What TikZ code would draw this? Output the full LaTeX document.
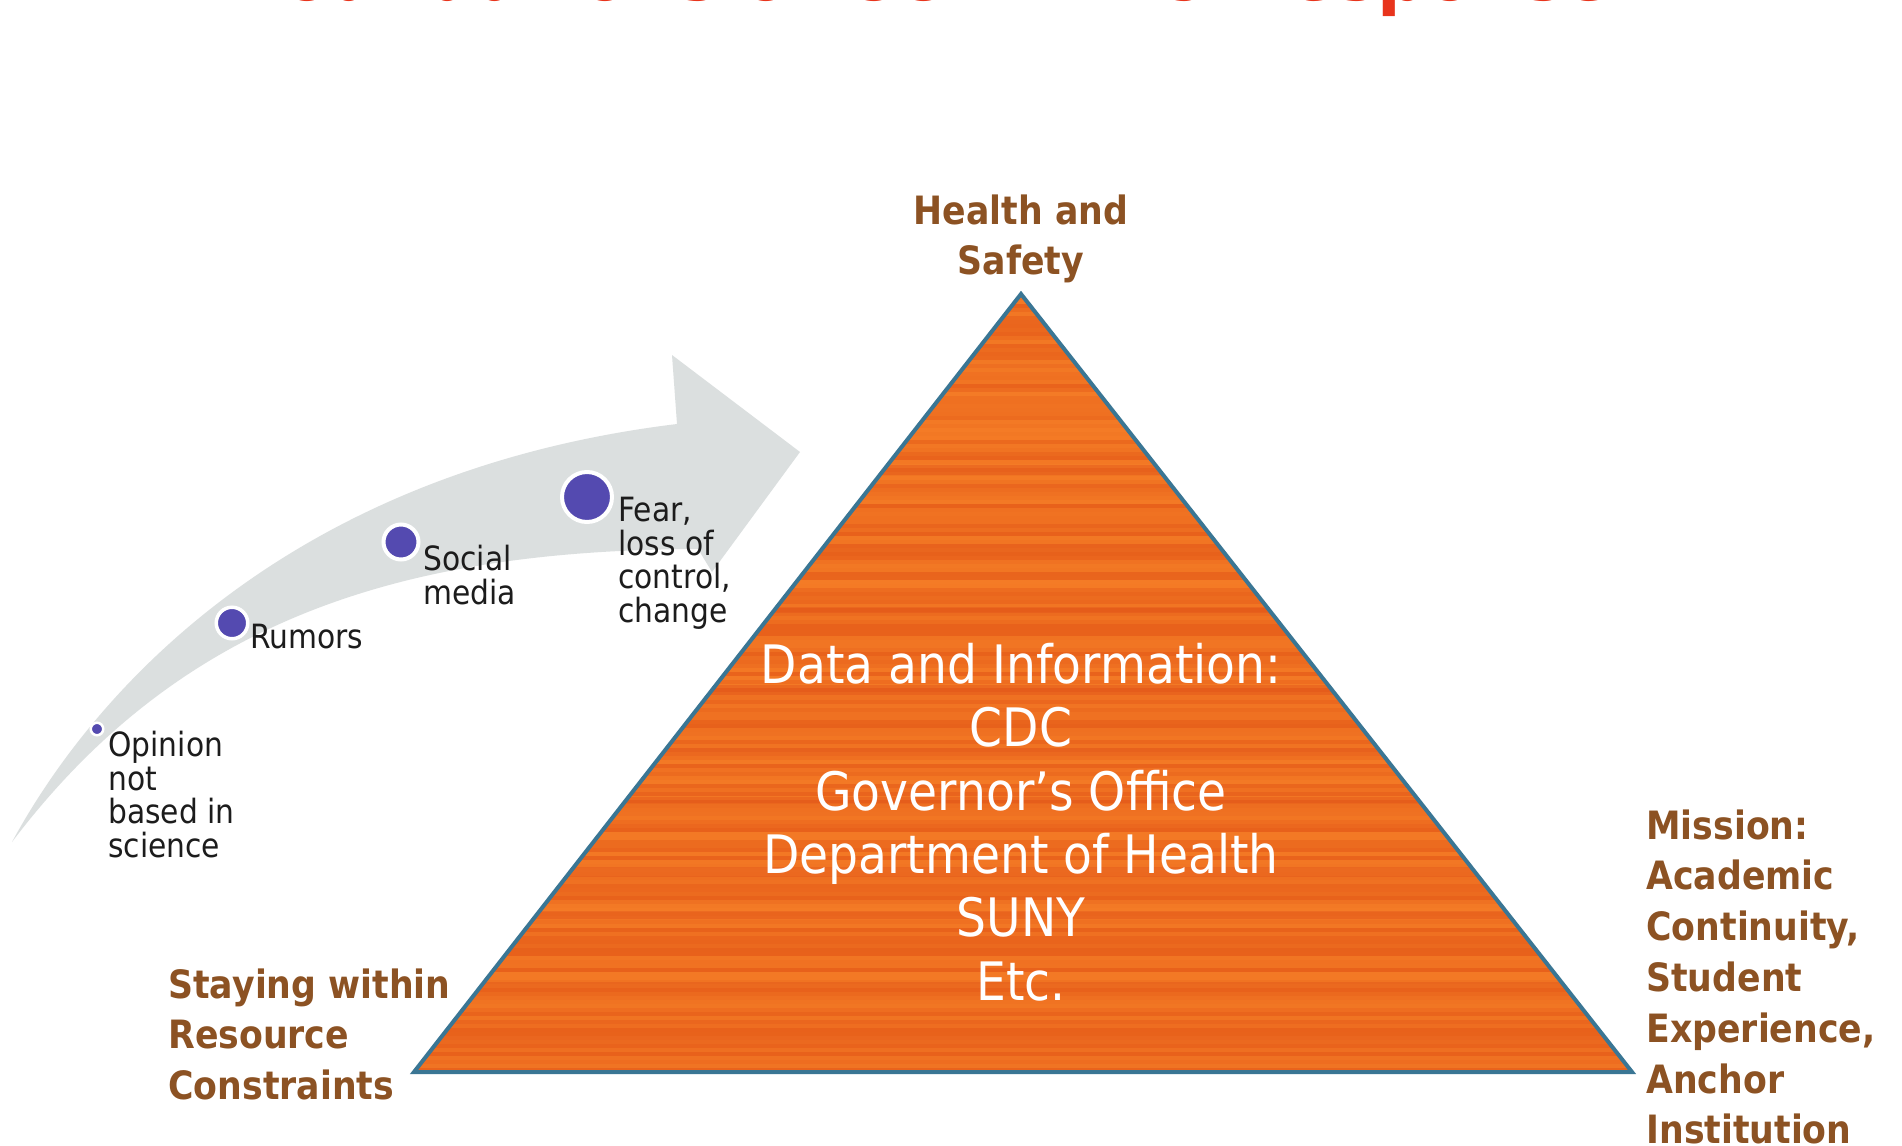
\documentclass[tikz,border=0pt]{standalone}
\usepackage{fontspec}
\setmainfont{DejaVu Sans}[FakeStretch=0.89]
\definecolor{titlered}{RGB}{232,52,28}
\definecolor{brownlbl}{RGB}{140,82,35}
\definecolor{arrowgray}{RGB}{219,223,223}
\definecolor{dotblue}{RGB}{84,74,176}
\definecolor{triorange}{RGB}{240,112,30}
\definecolor{streakA}{RGB}{222,78,24}
\definecolor{streakB}{RGB}{250,138,48}
\definecolor{triedge}{RGB}{58,118,148}
\definecolor{darktext}{RGB}{28,28,28}
\begin{document}
\begin{tikzpicture}[x=0.5pt,y=-0.5pt,
  brownbold/.style={font=\bfseries\fontsize{19.5}{25.4}\selectfont, text=brownlbl, inner sep=0pt},
  arrowlbl/.style={font=\fontsize{16.7}{16.8}\selectfont, text=darktext, inner sep=0pt, anchor=north west, align=left},
  dotnode/.style={circle, fill=dotblue, draw=white, inner sep=0pt},
  datatext/.style={font=\fontsize{26.5}{31.65}\selectfont, text=white, inner sep=0pt, align=center}]
\useasboundingbox (0,0) rectangle (1902,1146);
\clip (0,0) rectangle (1902,1146);
\fill[white] (0,0) rectangle (1902,1146);

% title (cut off at the top edge)
\node[anchor=base, font=\bfseries\fontsize{38.7}{40}\selectfont, text=titlered, inner sep=0pt] (title) at (925,0) {Foundations of COVID-19 Response};

% curved arrow
\fill[arrowgray] (12,842) .. controls (100,680) and (300,470) .. (677,424)
  -- (672,355) -- (800,452) -- (712,572) -- (698,549)
  .. controls (400,550) and (180,620) .. (12,842) -- cycle;

% dots
\node[dotnode, minimum size=6.25pt, line width=1.25pt] (d1) at (97,729) {};
\node[dotnode, minimum size=15.75pt, line width=1.75pt] (d2) at (232,623) {};
\node[dotnode, minimum size=17.5pt, line width=2pt] (d3) at (401,542) {};
\node[dotnode, minimum size=25pt, line width=2pt] (d4) at (587,497) {};

% labels on the arrow
\node[arrowlbl] (l1) at (108,731) {Opinion\\not\\based in\\science};
\node[arrowlbl] (l2) at (250,624) {Rumors};
\node[arrowlbl] (l3) at (423,545) {Social\\media};
\node[arrowlbl] (l4) at (618,497) {Fear,\\loss of\\control,\\change};

% triangle
\begin{scope}
  \clip (414,1072) -- (1021,294) -- (1632,1072) -- cycle;
  \fill[triorange] (380,280) rectangle (1660,1090);
  \pgfmathsetseed{42}
  \foreach \yy in {294,298,...,1074} {
    \pgfmathsetmacro\rr{int(100*rnd)}
    \draw[line width=1.6pt, draw=streakA!\rr!streakB, opacity=0.45] (380,\yy) -- (1660,\yy);
  }
  \foreach \yy/\ww in {470/5, 548/4, 610/3, 690/5, 752/4, 800/3, 872/5, 915/4, 985/3, 1040/4} {
    \draw[line width=\ww pt, draw=streakA, opacity=0.35] (380,\yy) -- (1660,\yy);
  }
\end{scope}
\draw[triedge, line width=2pt, line join=miter] (414,1072) -- (1021,294) -- (1632,1072) -- cycle;

% texts
\node[brownbold, anchor=north, align=center] (hs) at (1021,194) {Health and\\Safety};
\node[datatext, anchor=north] (data) at (1021,643) {Data and Information:\\CDC\\Governor’s Office\\Department of Health\\SUNY\\Etc.};
\node[brownbold, anchor=north west, align=left] (staying) at (168,968) {Staying within\\Resource\\Constraints};
\node[brownbold, anchor=north west, align=left] (mission) at (1646,809) {Mission:\\Academic\\Continuity,\\Student\\Experience,\\Anchor\\Institution};
\end{tikzpicture}
\end{document}
